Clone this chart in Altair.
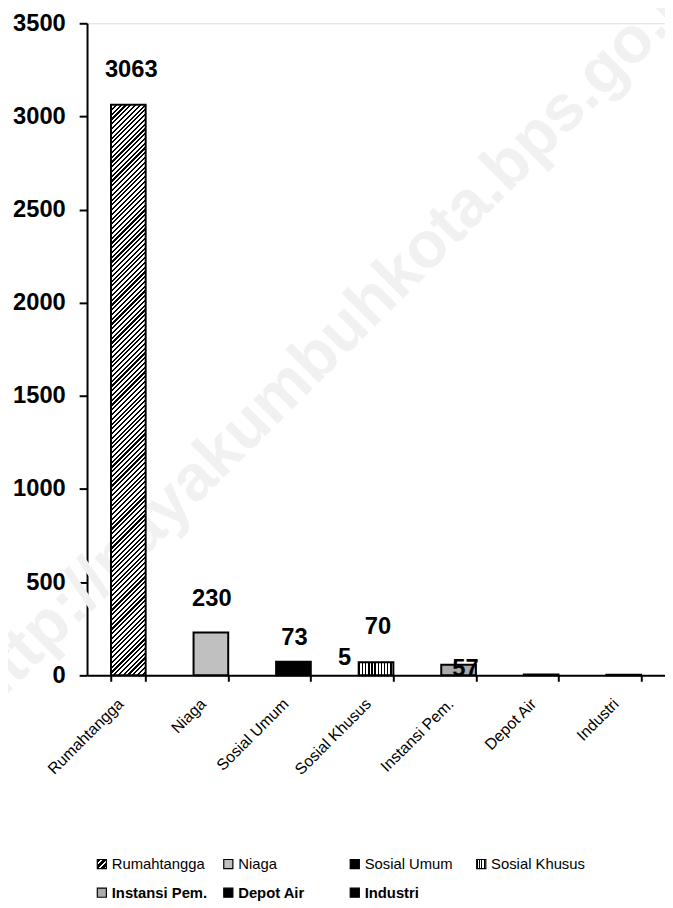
import altair as alt
import pandas as pd

# ---- data ----
categories = ["Rumahtangga", "Niaga", "Sosial Umum", "Sosial Khusus",
              "Instansi Pem.", "Depot Air", "Industri"]
values = [3063, 230, 73, 70, 57, 5, 3]

label_categories = ["Rumahtangga", "Niaga", "Sosial Umum", "Sosial Khusus",
                    "Instansi Pem.", "Depot Air"]
label_texts = ["3063", "230", "73", "70", "57", "5"]

y_ticks = [0, 500, 1000, 1500, 2000, 2500, 3000, 3500]
legend_bold = [False, False, False, False, True, True, True]
watermark_text = "http://payakumbuhkota.bps.go.id"

# ---- style ----
FONT = "Liberation Sans"
W, H = 585, 660
Y_MAX = 3500
PAD_INNER = 0.58
solid_colors = ["#555555", "#c0c0c0", "#000000", "#333333",
                "#aaaaaa", "#000000", "#000000"]
label_dx = [3, 1, 1, 2, 7, -199]
label_dy = [-28, -27, -17, -29, 11, -10]


def stripe_stops(n, dark_frac, dark="#000000", light="#ffffff"):
    stops = []
    for k in range(n):
        a = k / n
        b = (k + dark_frac) / n
        c = (k + 1) / n
        stops += [{"offset": a, "color": dark}, {"offset": b, "color": dark},
                  {"offset": b, "color": light}, {"offset": c, "color": light}]
    return stops


# diagonal "/" hatch for the tall bar, expressed in its bounding box
bw = W / len(categories) * (1 - PAD_INNER)
bh = values[0] / Y_MAX * H
c = (bw + bh) / (bw ** 2 + bh ** 2)
n_hatch = int((bw + bh) / 2 ** 0.5 / 3.4)
hatch_bar = {"gradient": "linear", "x1": 0, "y1": 0, "x2": bw * c, "y2": bh * c,
             "stops": stripe_stops(n_hatch, 0.45)}
vstripe_bar = {"gradient": "linear", "x1": 0, "y1": 0, "x2": 1, "y2": 0,
               "stops": stripe_stops(11, 0.45)}
hatch_sym = {"gradient": "linear", "x1": 0, "y1": 0, "x2": 1, "y2": 1,
             "stops": stripe_stops(3, 0.62)}
vstripe_sym = {"gradient": "linear", "x1": 0, "y1": 0, "x2": 1, "y2": 0,
               "stops": stripe_stops(4, 0.55)}

df = pd.DataFrame({"category": categories, "value": values})
val_map = dict(zip(categories, values))
legend_df = pd.DataFrame({
    "category": categories,
    "col": [i % 4 for i in range(len(categories))],
    "row": [i // 4 for i in range(len(categories))],
    "bold": legend_bold,
})

x_enc = alt.X("category:N", sort=categories, title=None,
              scale=alt.Scale(domain=categories, paddingInner=PAD_INNER,
                              paddingOuter=PAD_INNER / 2),
              axis=alt.Axis(labelAngle=315, labelAlign="right",
                            labelBaseline="middle", labelFont=FONT,
                            labelFontSize=16, labelColor="black",
                            labelPadding=20, labelOffset=-8,
                            tickBand="extent", tickSize=6, tickWidth=2,
                            tickColor="black", domainColor="black",
                            domainWidth=2, labelLimit=300))
y_enc = alt.Y("value:Q", title=None,
              scale=alt.Scale(domain=[0, Y_MAX], nice=False),
              axis=alt.Axis(values=y_ticks, format="d", labelFont=FONT,
                            labelFontSize=24, labelFontWeight="bold",
                            labelColor="black", labelPadding=14, tickSize=8,
                            tickWidth=2, tickColor="black", domainColor="black",
                            domainWidth=2, grid=False, labelOverlap=False))


def fill_enc(h_grad, v_grad):
    return alt.Fill(
        "category:N",
        scale=alt.Scale(domain=categories, range=solid_colors),
        legend=None,
        condition=[
            {"test": "datum.category === 'Rumahtangga'", "value": h_grad},
            {"test": "datum.category === 'Sosial Khusus'", "value": v_grad},
        ],
    )


watermark = alt.Chart(pd.DataFrame({"t": [watermark_text]})).mark_text(
    font=FONT, fontSize=66, fontWeight="bold", color="#f1f1f1",
    angle=315, align="center", baseline="middle"
).encode(text="t:N", x=alt.value(252), y=alt.value(318))

bars = alt.Chart(df).mark_bar(stroke="black", strokeWidth=2).encode(
    x=x_enc, y=y_enc, fill=fill_enc(hatch_bar, vstripe_bar)
)

label_layers = []
for cat, txt, dx, dy in zip(label_categories, label_texts, label_dx, label_dy):
    ldf = pd.DataFrame({"category": [cat], "value": [val_map[cat]], "text": [txt]})
    label_layers.append(
        alt.Chart(ldf).mark_text(
            font=FONT, fontSize=24, fontWeight="bold", color="black",
            baseline="alphabetic", align="center", dx=dx, dy=dy
        ).encode(x=alt.X("category:N", sort=categories), y="value:Q", text="text:N")
    )

main = alt.layer(watermark, bars, *label_layers)

lx = alt.X("col:Q", axis=None, scale=alt.Scale(domain=[0, 3], range=[15, 399]))
ly = alt.Y("row:Q", axis=None, scale=alt.Scale(domain=[0, 1], range=[851, 880]))

leg_sym = alt.Chart(legend_df).mark_square(
    size=85, stroke="black", strokeWidth=1.2, opacity=1
).encode(x=lx, y=ly, fill=fill_enc(hatch_sym, vstripe_sym))

leg_txt_n = alt.Chart(legend_df).transform_filter("!datum.bold").mark_text(
    font=FONT, fontSize=15, color="black", align="left", baseline="middle", dx=10
).encode(x=lx, y=ly, text="category:N")

leg_txt_b = alt.Chart(legend_df).transform_filter("datum.bold").mark_text(
    font=FONT, fontSize=15, fontWeight="bold", color="black",
    align="left", baseline="middle", dx=10
).encode(x=lx, y=ly, text="category:N")

legend = alt.layer(leg_sym, leg_txt_n, leg_txt_b)

chart = alt.layer(main, legend).resolve_scale(
    x="independent", y="independent", fill="independent"
).properties(
    width=W, height=H,
    autosize=alt.AutoSizeParams(type="none"),
    padding={"left": 80, "top": 10, "right": 0, "bottom": 228},
).configure_view(stroke=None).configure(background="white")

chart.save("out.html", embed_options={"renderer": "svg", "actions": False})
